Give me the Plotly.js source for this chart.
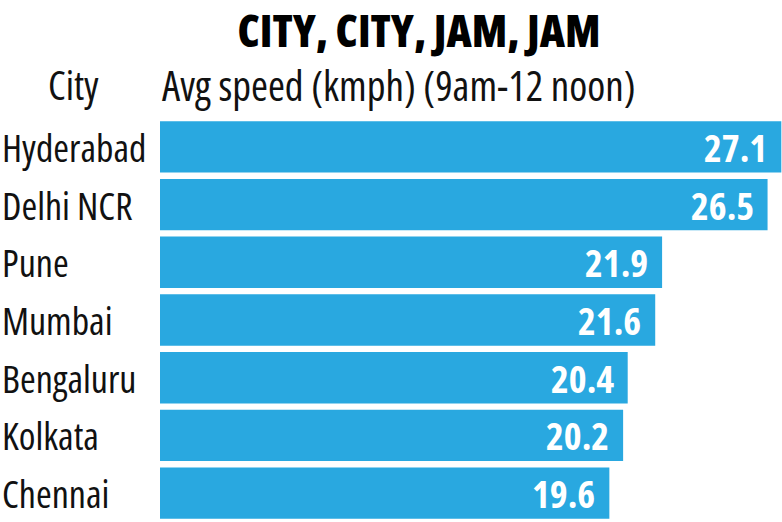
<!DOCTYPE html>
<html>
<head>
<meta charset="utf-8">
<script src="https://cdn.plot.ly/plotly-3.0.1.min.js"></script>
<style>
html,body{margin:0;padding:0;background:#fff;}
#chart{width:782px;height:522px;}
svg text, svg tspan{font-stretch:75% !important;}
</style>
</head>
<body>
<div id="chart"></div>
<script>
var cities = ["Hyderabad", "Delhi NCR", "Pune", "Mumbai", "Bengaluru", "Kolkata", "Chennai"];
var speeds = [27.1, 26.5, 21.9, 21.6, 20.4, 20.2, 19.6];
var titleText = "CITY, CITY, JAM, JAM";
var colHeaderCity = "City";
var colHeaderSpeed = "Avg speed (kmph) (9am-12 noon)";

var FONT = "'Open Sans', sans-serif";
var W = 782, H = 522, L = 160, R = 0, T = 118, B = 0;
var plotW = W - L - R, plotH = H - T - B;

var annotations = [];
cities.forEach(function (c, i) {
  annotations.push({
    xref: "paper", yref: "y", x: -L / plotW, y: c, xanchor: "left", yanchor: "middle",
    text: c, showarrow: false, font: {family: FONT, size: 38, color: "#111"}
  });
  annotations.push({
    xref: "x", yref: "y", x: speeds[i], y: c, xanchor: "right", yanchor: "middle", xshift: -12,
    text: speeds[i].toFixed(1), showarrow: false,
    font: {family: FONT, size: 38, color: "#fff", weight: 700}
  });
});
annotations.push({
  xref: "paper", yref: "paper", x: -L / plotW + 46 / plotW, y: 1 + 33 / plotH, xanchor: "left", yanchor: "middle",
  text: colHeaderCity, showarrow: false, font: {family: FONT, size: 40, color: "#111"}
});
annotations.push({
  xref: "paper", yref: "paper", x: 0, y: 1 + 33 / plotH, xanchor: "left", yanchor: "middle",
  text: colHeaderSpeed, showarrow: false, font: {family: FONT, size: 41, color: "#111"}
});

var data = [{
  type: "bar", orientation: "h", x: speeds, y: cities,
  marker: {color: "#29a8e0", line: {width: 0}},
  width: 0.89, hoverinfo: "none"
}];

var layout = {
  width: W, height: H,
  margin: {l: L, r: R, t: T, b: B, pad: 0},
  paper_bgcolor: "#fff", plot_bgcolor: "#fff",
  title: {
    text: titleText, x: 419 / W, xanchor: "center",
    y: 1 - 32 / H, yanchor: "middle",
    font: {family: FONT, size: 44, color: "#000", weight: 800}
  },
  xaxis: {range: [0, 27.13], visible: false, fixedrange: true},
  yaxis: {range: [6.5, -0.5], showticklabels: false, showgrid: false, zeroline: false, showline: false, ticks: "", fixedrange: true},
  showlegend: false,
  annotations: annotations
};

Plotly.newPlot("chart", data, layout, {displayModeBar: false, staticPlot: true});
</script>
</body>
</html>
